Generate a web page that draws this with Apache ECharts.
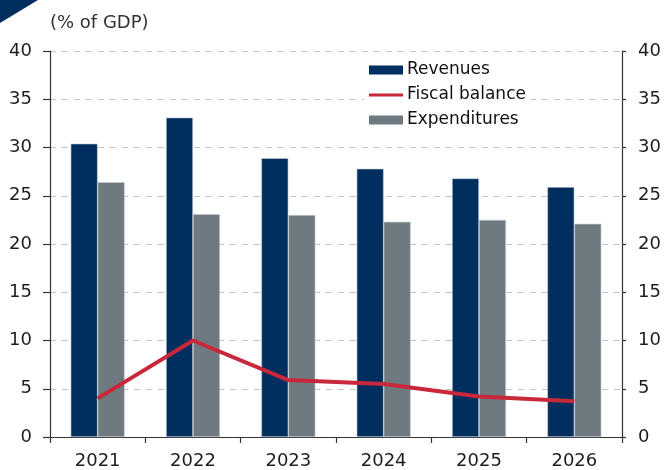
<!DOCTYPE html>
<html>
<head>
<meta charset="utf-8">
<script src="https://cdn.jsdelivr.net/npm/echarts@6/dist/echarts.min.js"></script>
<style>
  html, body { margin: 0; padding: 0; background: #fff; }
  #chart { width: 666px; height: 470px; }
</style>
</head>
<body>
<div id="chart"></div>
<script>
// Fiscal aggregates, % of GDP
const years = ['2021', '2022', '2023', '2024', '2025', '2026'];
const revenues = [30.4, 33.1, 28.9, 27.8, 26.8, 25.9];
const expenditures = [26.4, 23.1, 23.0, 22.3, 22.5, 22.1];
const fiscalBalance = [4.0, 10.0, 5.9, 5.5, 4.2, 3.7];
const yTicks = { min: 0, max: 40, interval: 5 };

const FONT = '"DejaVu Sans", Arial, sans-serif';
const TEXT = '#1e1e1e';
const NAVY = '#002f5f';
const GREY = '#6e7a80';
const RED = '#c8283a';

const chart = echarts.init(document.getElementById('chart'), null, { renderer: 'canvas' });

const valueAxis = (pos, margin, tickLen) => ({
  type: 'value',
  position: pos,
  min: yTicks.min,
  max: yTicks.max,
  interval: yTicks.interval,
  axisLine: { show: true, lineStyle: { color: '#333333', width: 1.2 } },
  axisTick: { show: true, length: tickLen, lineStyle: { color: '#333333', width: 1.2 } },
  axisLabel: { color: TEXT, fontFamily: FONT, fontSize: 18, margin: margin },
  splitLine: pos === 'left'
    ? { show: true, lineStyle: { color: '#c4c4c4', type: [6, 6], width: 1 } }
    : { show: false }
});

chart.setOption({
  animation: false,
  backgroundColor: '#ffffff',
  textStyle: { fontFamily: FONT },
  graphic: [
    {
      type: 'polygon',
      shape: { points: [[0, 0], [38, 0], [0, 23]] },
      style: { fill: NAVY }
    },
    {
      type: 'text',
      left: 50,
      top: 14,
      style: { text: '(% of GDP)', fill: '#333333', font: '18px ' + FONT }
    }
  ],
  grid: { left: 50, right: 44, top: 51, bottom: 33, containLabel: false },
  legend: {
    orient: 'vertical',
    left: 364,
    top: 57,
    itemWidth: 34,
    itemHeight: 9,
    itemGap: 5,
    padding: [3, 5, 3, 5],
    backgroundColor: '#ffffff',
    textStyle: { color: '#111111', fontFamily: FONT, fontSize: 17, padding: [0, 0, 0, -1], lineHeight: 20 },
    data: [
      { name: 'Revenues', icon: 'rect', itemStyle: { borderWidth: 0 } },
      { name: 'Fiscal balance', icon: 'path://M0,0 L34,0 L34,3 L0,3 Z', itemStyle: { color: RED, borderWidth: 0 } },
      { name: 'Expenditures', icon: 'rect', itemStyle: { borderWidth: 0 } }
    ]
  },
  xAxis: {
    type: 'category',
    data: years,
    boundaryGap: true,
    axisLine: { show: true, lineStyle: { color: '#333333', width: 1.2 } },
    axisTick: { show: true, length: 6, alignWithLabel: false, lineStyle: { color: '#333333', width: 1.2 } },
    axisLabel: { color: TEXT, fontFamily: FONT, fontSize: 18, margin: 15 },
    splitLine: { show: false }
  },
  yAxis: [valueAxis('left', 18, 7), valueAxis('right', 16, 4)],
  series: [
    {
      name: 'Revenues',
      type: 'bar',
      data: revenues,
      barWidth: 27,
      barGap: '0%',
      itemStyle: { color: NAVY, borderColor: '#c9d2de', borderWidth: 0.6 },
      z: 2
    },
    {
      name: 'Expenditures',
      type: 'bar',
      data: expenditures,
      barWidth: 27,
      barGap: '0%',
      itemStyle: { color: GREY, borderColor: '#c9d0d4', borderWidth: 0.6 },
      z: 2
    },
    {
      name: 'Fiscal balance',
      type: 'line',
      data: fiscalBalance,
      showSymbol: false,
      symbol: 'none',
      lineStyle: { color: RED, width: 4 },
      itemStyle: { color: RED },
      z: 5
    }
  ]
});
</script>
</body>
</html>
